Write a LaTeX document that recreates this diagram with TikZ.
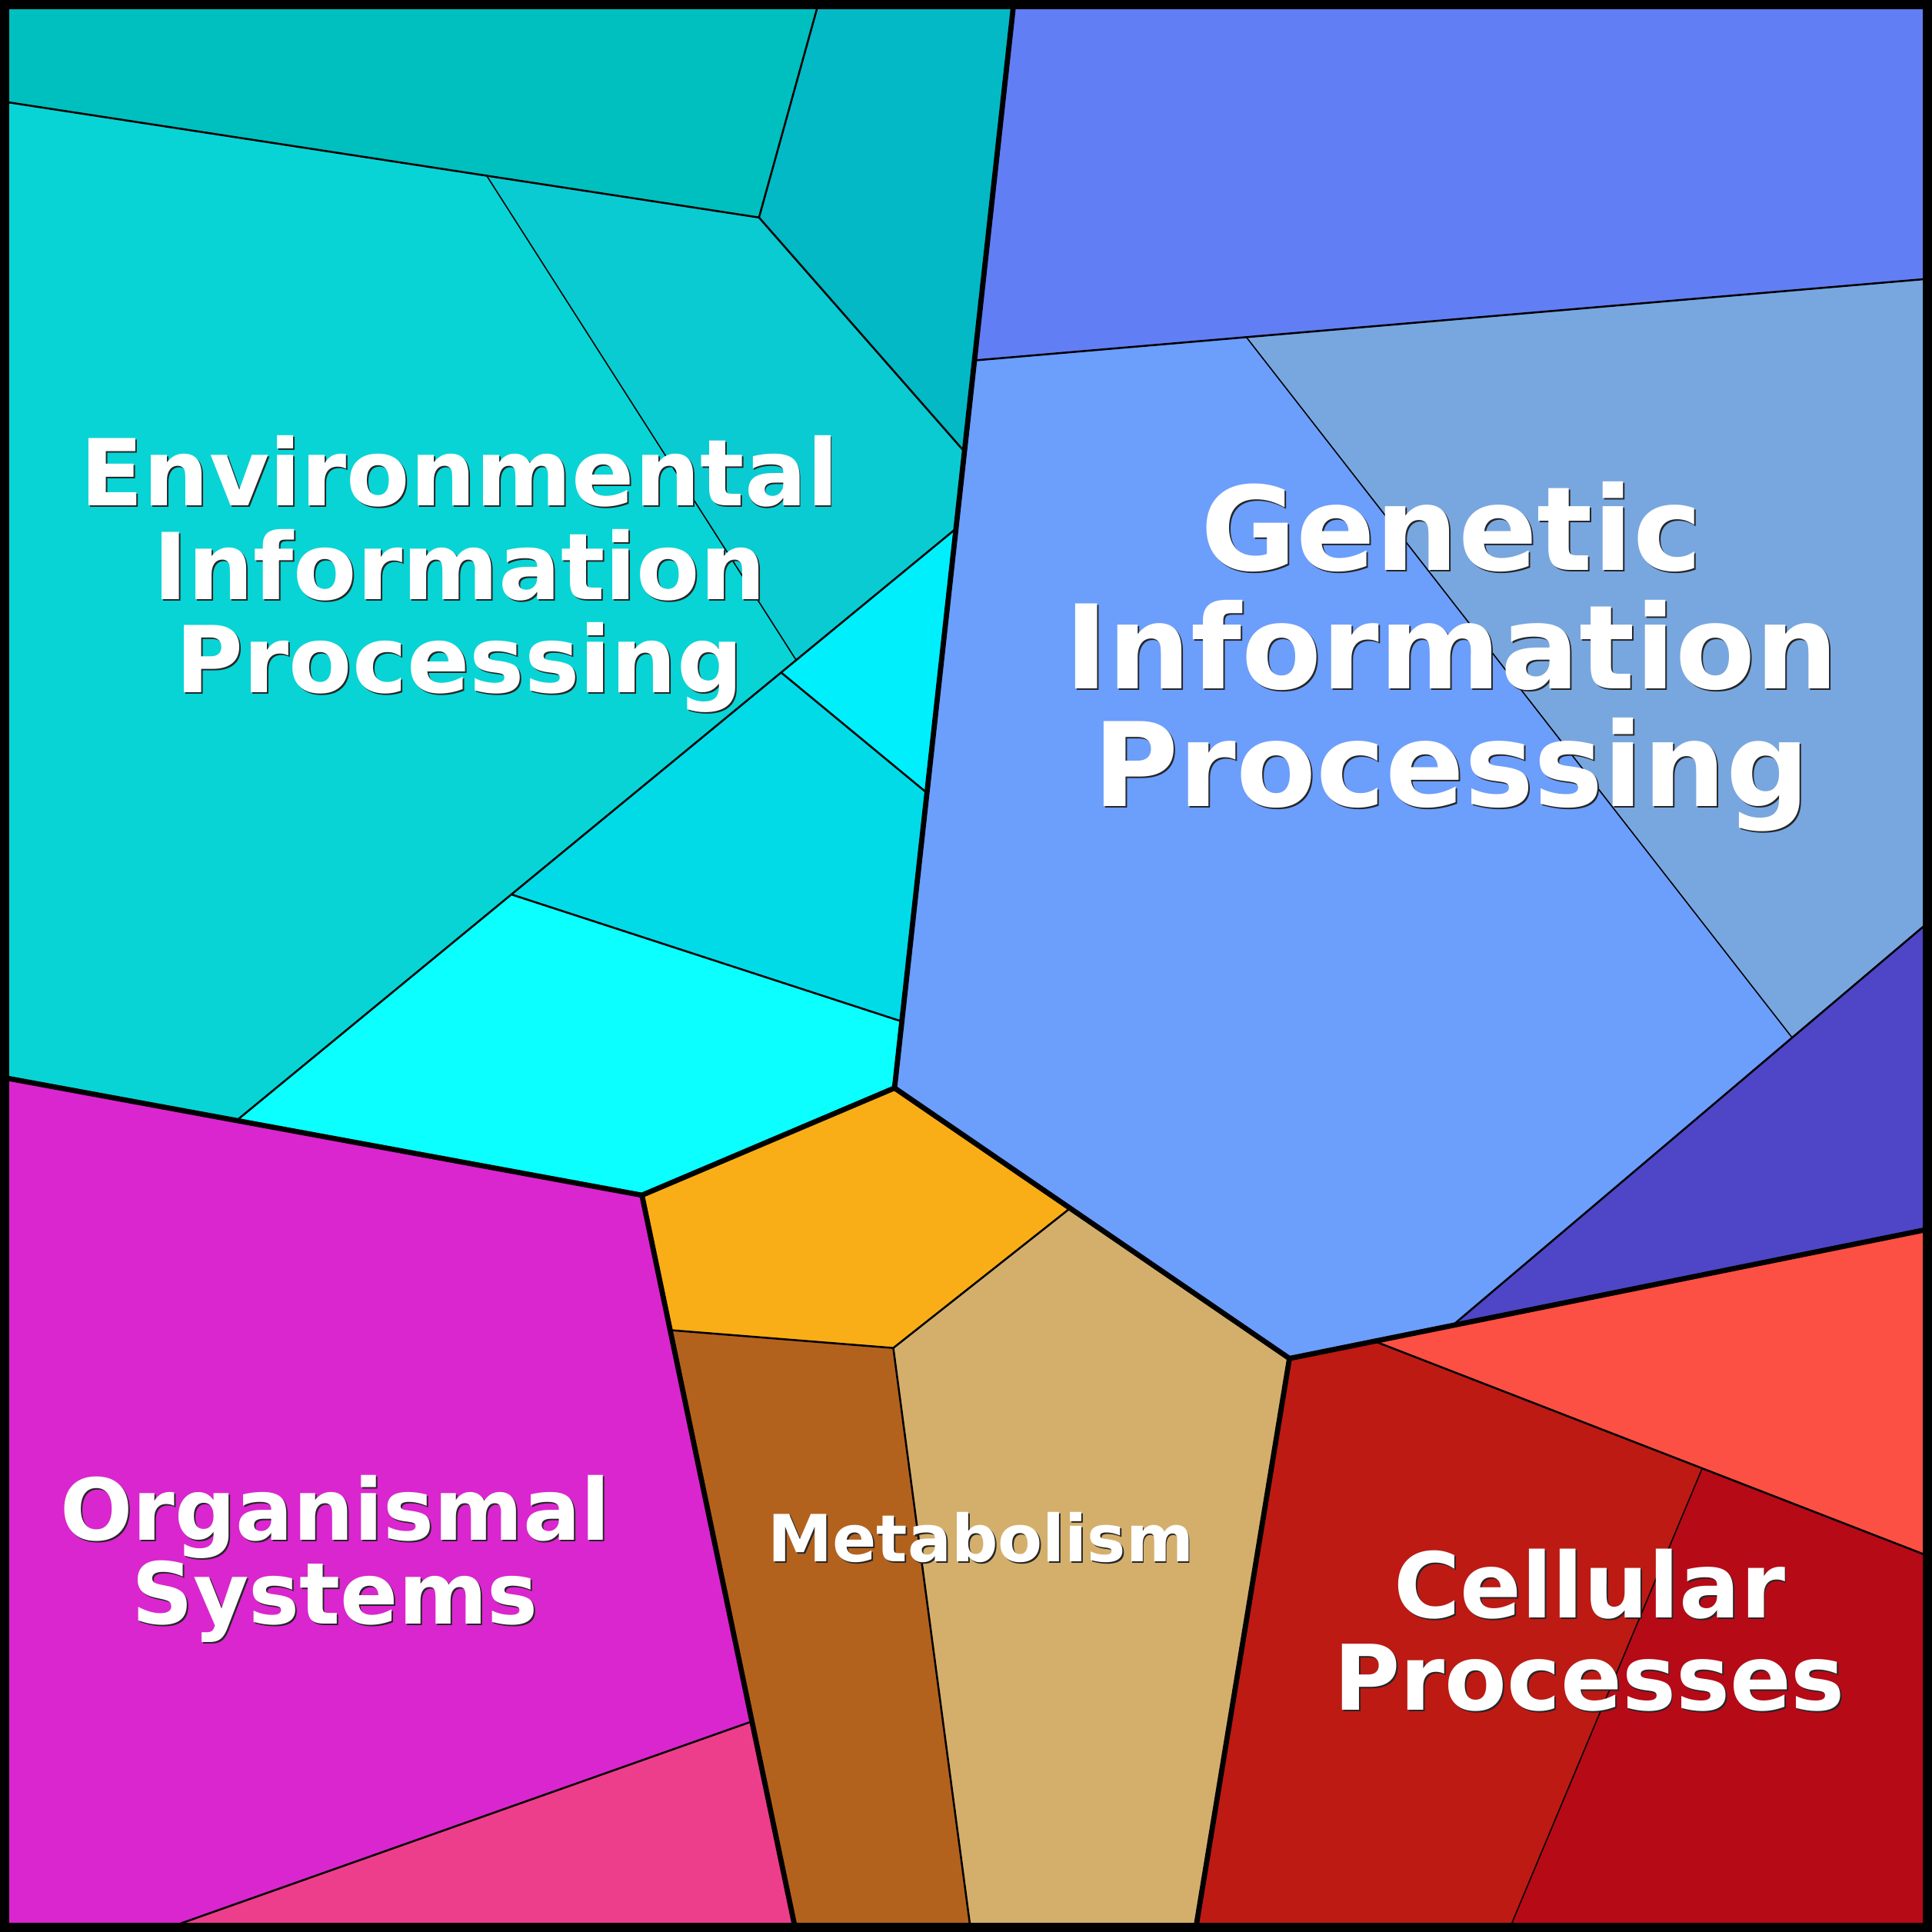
\documentclass[tikz,border=0pt]{standalone}
\usepackage{fontspec}
\setmainfont{DejaVu Sans}

% region colours
\definecolor{envA}{HTML}{00BFBF}
\definecolor{envB}{HTML}{03B9C6}
\definecolor{envC}{HTML}{08D4D5}
\definecolor{envD}{HTML}{0BCBD2}
\definecolor{envE}{HTML}{00EFFC}
\definecolor{envF}{HTML}{01DBE8}
\definecolor{envG}{HTML}{0BFFFF}
\definecolor{orgA}{HTML}{DA26CF}
\definecolor{orgB}{HTML}{ED3E8C}
\definecolor{metA}{HTML}{F9AE17}
\definecolor{metB}{HTML}{B3621E}
\definecolor{metC}{HTML}{D4AF6C}
\definecolor{genA}{HTML}{627EF5}
\definecolor{genB}{HTML}{6C9EFC}
\definecolor{genC}{HTML}{78A7E0}
\definecolor{genD}{HTML}{4E46C6}
\definecolor{celA}{HTML}{FC5044}
\definecolor{celB}{HTML}{BD1A14}
\definecolor{celC}{HTML}{B60A17}

\tikzset{
  major/.style={line width=1.2pt, line join=round},
  minor/.style={line width=0.45pt},
  fine/.style={line width=0.28pt},
  pathway/.style={text=white, align=center, inner sep=0pt},
  pathway shadow/.style={pathway, text=black!85, xshift=0.35pt, yshift=-0.35pt},
  size env/.style={font=\fontsize{21.3pt}{21.6pt}\selectfont\bfseries},
  size gen/.style={font=\fontsize{26.9pt}{27.3pt}\selectfont\bfseries},
  size org/.style={font=\fontsize{19.7pt}{19.4pt}\selectfont\bfseries},
  size cel/.style={font=\fontsize{20.9pt}{21.3pt}\selectfont\bfseries},
  size met/.style={font=\fontsize{15pt}{15pt}\selectfont\bfseries},
}

\begin{document}
\begin{tikzpicture}[x=0.01cm, y=-0.01cm]
\useasboundingbox (0,0) rectangle (1568,1568);

% corners and edge points
\coordinate (tl) at (0,0);
\coordinate (tr) at (1568,0);
\coordinate (br) at (1568,1568);
\coordinate (bl) at (0,1568);
\coordinate (a) at (665,0);
\coordinate (b) at (823,0);
\coordinate (l1) at (0,82);
\coordinate (l2) at (0,874);
\coordinate (r1) at (1568,226);
\coordinate (r2) at (1568,746);
\coordinate (r3) at (1568,997);
\coordinate (r4) at (1568,1264);
\coordinate (b1) at (127,1568);
\coordinate (b2) at (646,1568);
\coordinate (b3) at (788,1568);
\coordinate (b4) at (970,1568);
\coordinate (b5) at (1224,1568);

% inner vertices
\coordinate (p1) at (616,176.5);
\coordinate (p2) at (395,142.6);
\coordinate (p3) at (782.7,366.5);
\coordinate (p4) at (775.9,429);
\coordinate (p5) at (646,535.5);
\coordinate (p6) at (634,545.8);
\coordinate (p7) at (752.3,643.5);
\coordinate (p8) at (192.5,909);
\coordinate (p9) at (415,725.9);
\coordinate (p10) at (731.9,829);
\coordinate (m0) at (726,883);
\coordinate (m1) at (521,970);
\coordinate (m2) at (543.9,1079.5);
\coordinate (m3) at (725,1094);
\coordinate (m4) at (868.5,980.6);
\coordinate (m5) at (1046.5,1102.5);
\coordinate (g1) at (790.9,292.5);
\coordinate (g2) at (1011.5,273.6);
\coordinate (g3) at (1454,841.5);
\coordinate (g4) at (1179,1075.6);
\coordinate (c1) at (1115.5,1088.5);
\coordinate (c2) at (1381.5,1191.7);
\coordinate (o1) at (610.5,1397);

% Environmental Information Processing
\fill[envA] (tl) -- (a) -- (p1) -- (l1) -- cycle;
\fill[envB] (a) -- (b) -- (p3) -- (p1) -- cycle;
\fill[envC] (l1) -- (p2) -- (p5) -- (p8) -- (l2) -- cycle;
\fill[envD] (p2) -- (p1) -- (p3) -- (p4) -- (p5) -- cycle;
\fill[envE] (p5) -- (p4) -- (p7) -- (p6) -- cycle;
\fill[envF] (p6) -- (p7) -- (p10) -- (p9) -- cycle;
\fill[envG] (p9) -- (p10) -- (m0) -- (m1) -- (p8) -- cycle;
% Organismal Systems
\fill[orgA] (l2) -- (m1) -- (o1) -- (b1) -- (bl) -- cycle;
\fill[orgB] (b1) -- (o1) -- (b2) -- cycle;
% Metabolism
\fill[metA] (m1) -- (m0) -- (m4) -- (m3) -- (m2) -- cycle;
\fill[metB] (m2) -- (m3) -- (b3) -- (b2) -- cycle;
\fill[metC] (m3) -- (m4) -- (m5) -- (b4) -- (b3) -- cycle;
% Genetic Information Processing
\fill[genA] (b) -- (tr) -- (r1) -- (g2) -- (g1) -- cycle;
\fill[genB] (g1) -- (g2) -- (g3) -- (g4) -- (m5) -- (m0) -- cycle;
\fill[genC] (g2) -- (r1) -- (r2) -- (g3) -- cycle;
\fill[genD] (g3) -- (r2) -- (r3) -- (g4) -- cycle;
% Cellular Processes
\fill[celA] (c1) -- (r3) -- (r4) -- cycle;
\fill[celB] (m5) -- (c1) -- (c2) -- (b5) -- (b4) -- cycle;
\fill[celC] (c2) -- (r4) -- (br) -- (b5) -- cycle;

% borders inside the groups
\draw[fine] (p2) -- (p5);
\draw[fine] (g2) -- (g3);
\draw[fine] (c2) -- (b5);
\draw[minor] (l1) -- (p1);
\draw[minor] (a) -- (p1) -- (p3);
\draw[minor] (p4) -- (p8);
\draw[minor] (p6) -- (p7);
\draw[minor] (p9) -- (p10);
\draw[minor] (g1) -- (r1);
\draw[minor] (g4) -- (r2);
\draw[minor] (c1) -- (r4);
\draw[minor] (o1) -- (b1);
\draw[minor] (m2) -- (m3) -- (m4);
\draw[minor] (m3) -- (b3);

% borders between the groups
\draw[major] (b) -- (m0) -- (m1) -- (l2);
\draw[major] (m1) -- (b2);
\draw[major] (m0) -- (m5) -- (b4);
\draw[major] (m5) -- (r3);

% frame
\draw[line width=0.075cm] (3.75,3.75) rectangle (1564.25,1564.25);

% labels
\node[pathway shadow, size env] at (373,466) {Environmental\\Information\\Processing};
\node[pathway, size env] (env) at (373,466) {Environmental\\Information\\Processing};
\node[pathway shadow, size gen] at (1178,533) {Genetic\\Information\\Processing};
\node[pathway, size gen] (gen) at (1178,533) {Genetic\\Information\\Processing};
\node[pathway shadow, size org] at (272,1265) {Organismal\\Systems};
\node[pathway, size org] (org) at (272,1265) {Organismal\\Systems};
\node[pathway shadow, size met] at (796,1248) {Metabolism};
\node[pathway, size met] (met) at (796,1248) {Metabolism};
\node[pathway shadow, size cel] at (1290,1323) {Cellular\\Processes};
\node[pathway, size cel] (cel) at (1290,1323) {Cellular\\Processes};
\end{tikzpicture}
\end{document}
